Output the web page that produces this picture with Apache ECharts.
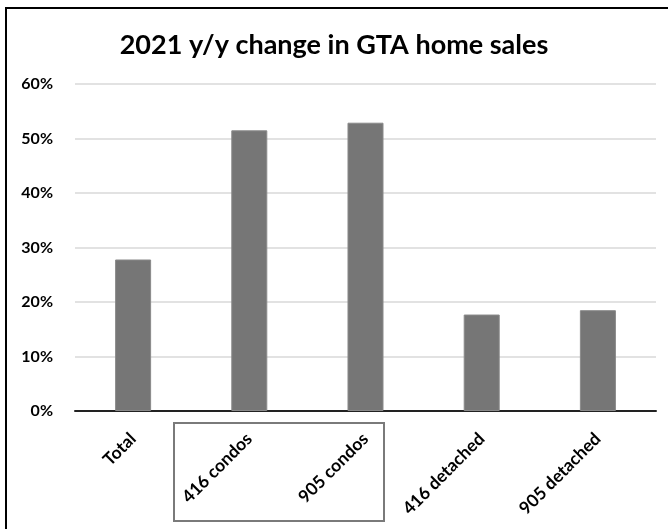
<!DOCTYPE html>
<html>
<head>
<meta charset="utf-8">
<script src="https://cdn.jsdelivr.net/npm/echarts@6/dist/echarts.min.js"></script>
<style>
  html, body { margin: 0; padding: 0; background: #fff; }
  #chart { width: 668px; height: 529px; }
</style>
</head>
<body>
<div id="chart"></div>
<script>
// GTA home sales, 2021 year-over-year change (%)
const categories = ['Total', '416 condos', '905 condos', '416 detached', '905 detached'];
const salesChange = [27.8, 51.5, 52.9, 17.7, 18.5];
const yTicks = { min: 0, max: 60, interval: 10 };

const chart = echarts.init(document.getElementById('chart'));
const labelFont = 'Lato, "Open Sans", sans-serif';

chart.setOption({
  animation: false,
  backgroundColor: '#ffffff',
  title: {
    text: '2021 y/y change in GTA home sales',
    left: 'center',
    top: 27,
    textStyle: { fontFamily: labelFont, fontSize: 27, fontWeight: 'bold', color: '#000' }
  },
  grid: { left: 75, right: 12, top: 84, bottom: 118 },
  xAxis: {
    type: 'category',
    data: categories,
    axisLine: { lineStyle: { color: '#222', width: 2 } },
    axisTick: { show: false },
    axisLabel: {
      rotate: 45,
      interval: 0,
      margin: 25,
      fontFamily: labelFont,
      fontSize: 17.5,
      fontWeight: 'bold',
      color: '#000'
    }
  },
  yAxis: {
    type: 'value',
    min: yTicks.min,
    max: yTicks.max,
    interval: yTicks.interval,
    axisLine: { show: false },
    axisTick: { show: false },
    splitLine: { lineStyle: { color: '#d9d9d9', width: 1.5 } },
    axisLabel: {
      margin: 22,
      formatter: '{value}%',
      fontFamily: labelFont,
      fontSize: 16,
      fontWeight: 'bold',
      color: '#000'
    }
  },
  series: [{
    type: 'bar',
    data: salesChange,
    barWidth: '31%',
    itemStyle: { color: '#767676', borderColor: '#8a8a8a', borderWidth: 1 }
  }],
  graphic: [
    {
      type: 'rect',
      shape: { x: 6, y: 8, width: 700, height: 600 },
      style: { fill: 'none', stroke: '#000', lineWidth: 2 }
    },
    {
      type: 'rect',
      shape: { x: 174, y: 423, width: 210, height: 98 },
      style: { fill: 'none', stroke: '#7a7a7a', lineWidth: 2 }
    }
  ]
});
</script>
</body>
</html>
